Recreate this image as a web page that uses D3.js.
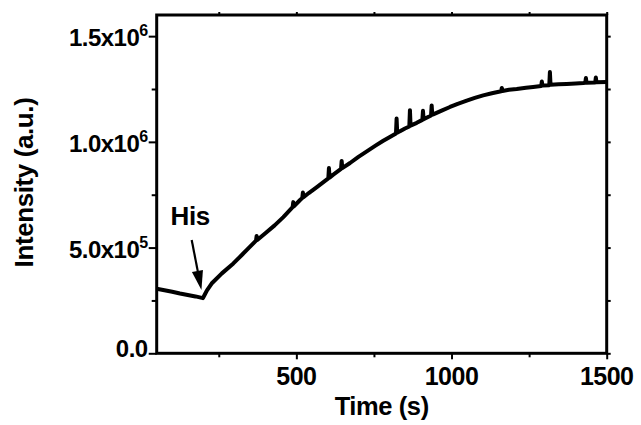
<!DOCTYPE html>
<html>
<head>
<meta charset="utf-8">
<script src="https://cdn.jsdelivr.net/npm/d3@7"></script>
<style>
  html, body { margin: 0; padding: 0; background: #fff; }
  svg { display: block; font-family: "Liberation Sans", Arial, sans-serif; font-weight: bold; }
</style>
</head>
<body>
<svg id="chart" width="641" height="425"></svg>
<script>
// time (s) and intensity (a.u.); spikes kept as their own points
const timeS = [
  50, 75, 100, 125, 150, 175, 199, 205, 212, 227, 260, 297, 325, 350,
  370, 372, 374, 400, 430, 458, 488, 490, 492, 512, 519, 521, 523, 540, 565,
  603, 605, 607, 619, 644, 646, 648, 673, 700, 727, 755, 780, 800, 821, 823, 825, 834,
  850, 864, 866, 868, 888, 906, 908, 910, 934, 936, 938, 941, 970, 995, 1020, 1049, 1075, 1102,
  1130, 1160, 1162, 1164, 1185, 1210, 1240, 1263, 1289, 1291, 1293, 1315, 1317, 1319,
  1345, 1371, 1400, 1425, 1431, 1433, 1435, 1463, 1465, 1467, 1500
];
const intensity = [
  3.05e5, 2.98e5, 2.91e5, 2.83e5, 2.76e5, 2.69e5, 2.61e5, 2.78e5, 2.98e5, 3.30e5, 3.78e5, 4.25e5, 4.66e5, 5.03e5,
  5.33e5, 5.55e5, 5.36e5, 5.68e5, 6.05e5, 6.44e5, 6.91e5, 7.15e5, 6.95e5, 7.25e5, 7.34e5, 7.60e5, 7.38e5, 7.58e5, 7.85e5,
  8.27e5, 8.76e5, 8.31e5, 8.45e5, 8.72e5, 9.10e5, 8.76e5, 9.00e5, 9.29e5, 9.55e5, 9.82e5, 1.005e6, 1.022e6, 1.040e6, 1.110e6, 1.044e6, 1.050e6,
  1.063e6, 1.073e6, 1.150e6, 1.077e6, 1.090e6, 1.104e6, 1.147e6, 1.107e6, 1.125e6, 1.172e6, 1.128e6, 1.130e6, 1.149e6, 1.165e6, 1.180e6, 1.195e6, 1.208e6, 1.220e6,
  1.230e6, 1.239e6, 1.255e6, 1.241e6, 1.246e6, 1.250e6, 1.256e6, 1.260e6, 1.264e6, 1.285e6, 1.266e6, 1.268e6, 1.330e6, 1.270e6,
  1.272e6, 1.274e6, 1.276e6, 1.278e6, 1.279e6, 1.302e6, 1.280e6, 1.281e6, 1.304e6, 1.282e6, 1.283e6
];

const xMajorTicks = [500, 1000, 1500];
const xMinorTicks = [250, 750, 1250];
const yMajorTicks = [0, 5e5, 1e6, 1.5e6];
const yMinorTicks = [2.5e5, 7.5e5, 1.25e6];
const yTickText = ["0.0", "5.0x10", "1.0x10", "1.5x10"];
const yTickSup = ["", "5", "6", "6"];

const svg = d3.select("#chart");
const pLeft = 156.7, pRight = 606.7, pTop = 15, pBottom = 353.3;

const x = d3.scaleLinear().domain([50, 1500]).range([pLeft, pRight]);
const y = d3.scaleLinear().domain([0, 1.6e6]).range([pBottom, pTop]);

function ticks(axis, vals, size, at) {
  const g = svg.append("g")
    .attr("transform", at)
    .call(axis.tickValues(vals).tickSize(size).tickFormat(""));
  g.select(".domain").remove();
  g.selectAll(".tick line").attr("stroke", "#000").attr("stroke-width", 2);
  return g;
}

// outward ticks on all four sides
ticks(d3.axisBottom(x), xMajorTicks, 6, `translate(0,${pBottom})`);
ticks(d3.axisBottom(x), xMinorTicks, 4, `translate(0,${pBottom})`);
ticks(d3.axisTop(x), xMajorTicks.concat(xMinorTicks), 3, `translate(0,${pTop})`);
ticks(d3.axisLeft(y), yMajorTicks, 8, `translate(${pLeft},0)`);
ticks(d3.axisLeft(y), yMinorTicks, 5, `translate(${pLeft},0)`);
ticks(d3.axisRight(y), yMajorTicks.concat(yMinorTicks), 4, `translate(${pRight},0)`);

// frame
svg.append("rect")
  .attr("x", pLeft).attr("y", pTop)
  .attr("width", pRight - pLeft).attr("height", pBottom - pTop)
  .attr("fill", "none").attr("stroke", "#000").attr("stroke-width", 3);

// x tick labels
svg.append("g").selectAll("text")
  .data(xMajorTicks)
  .join("text")
  .attr("x", d => x(d))
  .attr("y", pBottom + 32)
  .attr("text-anchor", "middle")
  .attr("font-size", 25)
  .attr("letter-spacing", -0.5)
  .text(d => d);

// y tick labels with superscript exponent
const yl = svg.append("g").selectAll("text")
  .data(yMajorTicks)
  .join("text")
  .attr("x", pLeft - 9)
  .attr("y", (d, i) => y(d) + (i === 0 ? 4 : 10))
  .attr("text-anchor", "end")
  .attr("font-size", 24)
  .attr("letter-spacing", -0.5);
yl.append("tspan").text((d, i) => yTickText[i]);
yl.append("tspan")
  .attr("font-size", 16)
  .attr("dy", -10)
  .text((d, i) => yTickSup[i]);

// axis titles
svg.append("text")
  .attr("x", (pLeft + pRight) / 2)
  .attr("y", 415)
  .attr("text-anchor", "middle")
  .attr("font-size", 25.5)
  .attr("letter-spacing", -0.4)
  .text("Time (s)");

svg.append("text")
  .attr("transform", `translate(33,${182.5}) rotate(-90)`)
  .attr("text-anchor", "middle")
  .attr("font-size", 26)
  .attr("letter-spacing", -0.4)
  .text("Intensity (a.u.)");

// trace
const line = d3.line()
  .x((d, i) => x(timeS[i]))
  .y((d, i) => y(intensity[i]));

svg.append("path")
  .datum(intensity)
  .attr("d", line)
  .attr("fill", "none")
  .attr("stroke", "#000")
  .attr("stroke-width", 4)
  .attr("stroke-linejoin", "round");

// "His" annotation with arrow pointing at the addition time
svg.append("text")
  .attr("x", 170.5)
  .attr("y", 225)
  .attr("font-size", 26)
  .attr("letter-spacing", -0.4)
  .text("His");

const tipX = x(199) - 1.5, tipY = y(2.61e5) - 8;
svg.append("line")
  .attr("x1", 191.7).attr("y1", 240)
  .attr("x2", tipX - 3.3).attr("y2", tipY - 17)
  .attr("stroke", "#000").attr("stroke-width", 2.2);
svg.append("path")
  .attr("d", `M${tipX},${tipY} L${tipX - 9.5},${tipY - 18} L${tipX + 1.5},${tipY - 20} Z`)
  .attr("fill", "#000");
</script>
</body>
</html>
